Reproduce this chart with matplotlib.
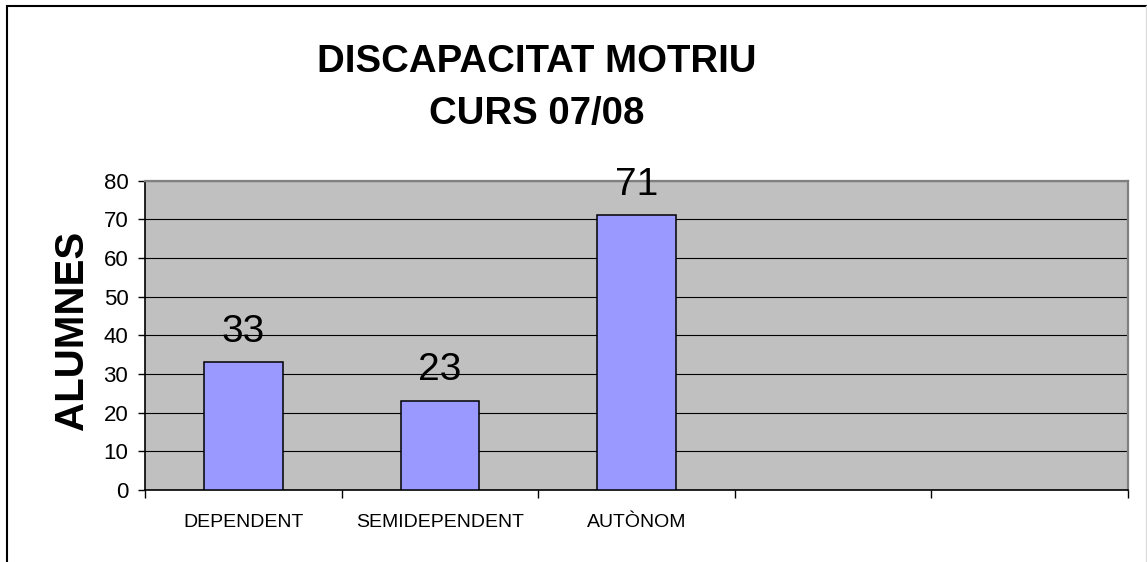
import matplotlib
matplotlib.use('Agg')
import matplotlib.pyplot as plt
from matplotlib.patches import Rectangle
from matplotlib.lines import Line2D

# Dades del gràfic
categories = ['DEPENDENT', 'SEMIDEPENDENT', 'AUTÒNOM']
alumnes = [33, 23, 71]
n_slots = 5  # l'eix té 5 caselles, només 3 amb dades
y_ticks = [0, 10, 20, 30, 40, 50, 60, 70, 80]

plt.rcParams['font.family'] = ['Liberation Sans', 'DejaVu Sans']

fig = plt.figure(figsize=(11.47, 5.62), dpi=100)
fig.patch.set_facecolor('white')

# Vora del gràfic (esquerra i dalt)
fig.patches.append(Rectangle((7 / 1147, -0.2), 1.5, 0.2 + 1 - 6 / 562,
                             transform=fig.transFigure, fill=False,
                             edgecolor='black', linewidth=1.5, zorder=0))
fig.lines.append(Line2D([1146 / 1147, 1146 / 1147], [0, 1 - 6 / 562],
                        transform=fig.transFigure, color='#DDDDDD', linewidth=1))

ax = fig.add_axes([145 / 1147, 1 - 490 / 562, (1127.7 - 145) / 1147, (490 - 180.7) / 562])
ax.set_facecolor('#C0C0C0')

x = list(range(len(categories)))
bars = ax.bar(x, alumnes, width=0.4, color='#9999FF', edgecolor='black',
              linewidth=1.1, zorder=3)

# Etiquetes de valor
for xi, v in zip(x, alumnes):
    ax.annotate(str(v), (xi, v), xytext=(0, 15), textcoords='offset points',
                ha='center', va='baseline', fontsize=28, zorder=4,
                annotation_clip=False)

ax.set_xlim(-0.5, n_slots - 0.5)
ax.set_ylim(0, 80)
ax.set_yticks(y_ticks)
ax.yaxis.grid(True, color='black', linewidth=0.8, zorder=1)
ax.set_axisbelow(True)

ax.set_xticks(x)
ax.set_xticklabels(categories, fontsize=14)
ax.set_xticks([i - 0.5 for i in range(n_slots + 1)], minor=True)
ax.tick_params(axis='x', which='major', length=0, pad=17.5)
ax.tick_params(axis='x', which='minor', length=5.5, width=1, direction='out')
ax.tick_params(axis='y', length=5, width=1, direction='out', pad=7, labelsize=16)

for side in ['left', 'bottom']:
    ax.spines[side].set_color('black')
    ax.spines[side].set_linewidth(1.2)
for side in ['top', 'right']:
    ax.spines[side].set_color('#808080')
    ax.spines[side].set_linewidth(1.6)

# Títol i etiqueta de l'eix
fig.text(537 / 1147, 1 - 71.7 / 562, 'DISCAPACITAT MOTRIU', ha='center',
         va='baseline', fontsize=27.6, fontweight='bold')
fig.text(537 / 1147, 1 - 124 / 562, 'CURS 07/08', ha='center',
         va='baseline', fontsize=27.6, fontweight='bold')
fig.text(72 / 1147, 1 - 330 / 562, 'ALUMNES', rotation=90, ha='center',
         va='center', fontsize=29, fontweight='bold')

fig.savefig('out.png', dpi=100)
